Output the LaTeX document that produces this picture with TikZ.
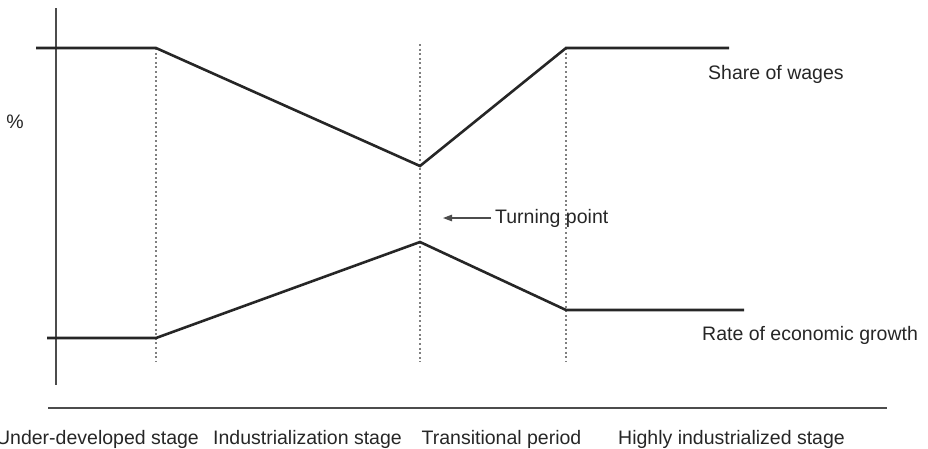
\documentclass[tikz,border=0pt]{standalone}
\usepackage{fontspec}
\setmainfont{Liberation Sans}
\usetikzlibrary{arrows.meta}
\tikzset{
  curve/.style={line width=2.6pt, black!85, line join=miter},
  axis/.style={line width=1.1pt, black!70},
  stageline/.style={line width=1.3pt, black!50, dash pattern=on 2pt off 2.6pt},
  lbl/.style={font=\fontsize{19.5}{22}\selectfont, text=black!85, inner sep=0pt}
}
\begin{document}
\begin{tikzpicture}[x=1pt, y=-1pt]
\useasboundingbox (0,0) rectangle (928,448);

% Axes
\coordinate (ytop) at (56,8);
\coordinate (ybot) at (56,385);
\coordinate (xleft) at (48,408);
\coordinate (xright) at (887,408);
\draw[axis] (ytop) -- (ybot);
\draw[axis] (xleft) -- (xright);
\node[lbl] (pct) at (15,122) {\%};

% Stage boundaries
\coordinate (s1top) at (156,48);  \coordinate (s1bot) at (156,362);
\coordinate (s2top) at (420,44);  \coordinate (s2bot) at (420,362);
\coordinate (s3top) at (566,48);  \coordinate (s3bot) at (566,362);
\draw[stageline] (s1top) -- (s1bot);
\draw[stageline] (s2top) -- (s2bot);
\draw[stageline] (s3top) -- (s3bot);

% Share of wages
\coordinate (w0) at (36,48);
\coordinate (w1) at (156,48);
\coordinate (w2) at (420,166);
\coordinate (w3) at (566,48);
\coordinate (w4) at (729,48);
\draw[curve] (w0) -- (w1) -- (w2) -- (w3) -- (w4);
\node[lbl, anchor=west] (wages) at (708,74) {Share of wages};

% Rate of economic growth
\coordinate (g0) at (47,338);
\coordinate (g1) at (156,338);
\coordinate (g2) at (420,242);
\coordinate (g3) at (566,310);
\coordinate (g4) at (744,310);
\draw[curve] (g0) -- (g1) -- (g2) -- (g3) -- (g4);
\node[lbl, anchor=west] (growth) at (702,335) {Rate of economic growth};

% Turning point
\node[lbl, anchor=west] (turn) at (495,218) {Turning point};
\coordinate (turnend) at (443,218);
\draw[line width=1.1pt, black!70, -{Triangle[length=9pt,width=6.5pt]}] (turn.west) ++(-4,0) -- (turnend);

% Stages
\node[lbl, anchor=base] (under) at (97.5,444) {Under-developed stage};
\node[lbl, anchor=base] (indus) at (307.5,444) {Industrialization stage};
\node[lbl, anchor=base] (trans) at (501.5,444) {Transitional period};
\node[lbl, anchor=base] (high) at (731.5,444) {Highly industrialized stage};
\end{tikzpicture}
\end{document}
